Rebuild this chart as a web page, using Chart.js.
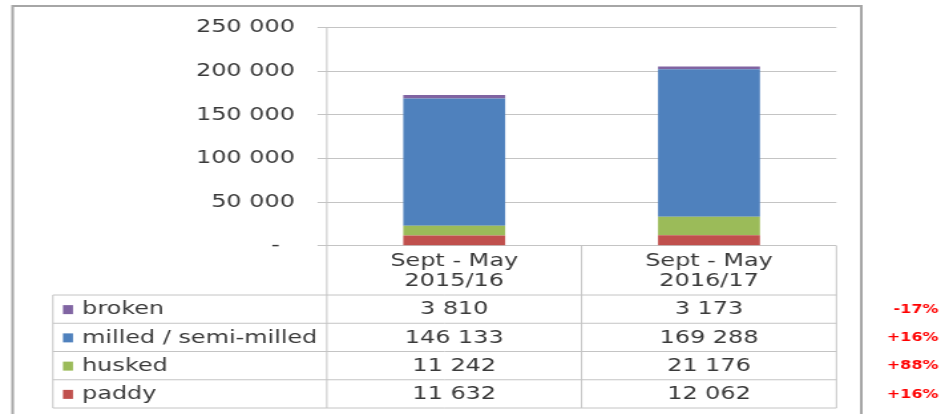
<!DOCTYPE html>
<html lang="en">
<head>
    <meta charset="UTF-8">
    <title>Rice imports</title>
    <style>
        body {
            margin: 0;
            background: #fff;
        }
        #chart {
            display: block;
        }
    </style>
</head>
<body>
    <!-- the original picture is stretched sideways, so the canvas is drawn narrow and widened by its inline style -->
    <canvas id="chart" width="708" height="414" style="width:941px;height:414px"></canvas>

    <script src="https://cdn.jsdelivr.net/npm/chart.js"></script>
    <script>
        const categories = [['Sept - May', '2015/16'], ['Sept - May', '2016/17']];
        const paddy = [11632, 12062];
        const husked = [11242, 21176];
        const milled = [146133, 169288];
        const broken = [3810, 3173];
        // change 2016/17 vs 2015/16, table rows top to bottom
        const changes = ['-17%', '+16%', '+88%', '+16%'];

        const FONT = '"DejaVu Sans", Verdana, sans-serif';
        const TEXT = '#3a3a3a';
        const GRID = '#c4c4c4';

        function fmt(n) {
            return String(n).replace(/\B(?=(\d{3})+(?!\d))/g, ' ');
        }

        const datasets = [
            { label: 'paddy', data: paddy, backgroundColor: '#c0504d' },
            { label: 'husked', data: husked, backgroundColor: '#9bbb59' },
            { label: 'milled / semi-milled', data: milled, backgroundColor: '#4f81bd' },
            { label: 'broken', data: broken, backgroundColor: '#8064a2' }
        ];

        // data table under the plot, plus the outer frame
        const tablePlugin = {
            id: 'dataTable',
            afterDraw(chart) {
                const { ctx, chartArea: a, scales: { x } } = chart;
                const headBottom = a.bottom + 49.3;
                const rowH = 28.25;
                const legLeft = 39.8;
                const mid = (x.getPixelForValue(0) + x.getPixelForValue(1)) / 2;
                const rows = datasets.slice().reverse();
                const tableBottom = headBottom + rowH * rows.length;

                ctx.save();
                ctx.strokeStyle = GRID;
                ctx.lineWidth = 1;
                ctx.beginPath();
                // verticals
                ctx.moveTo(a.left, a.top); ctx.lineTo(a.left, tableBottom);
                ctx.moveTo(mid, a.bottom); ctx.lineTo(mid, tableBottom);
                ctx.moveTo(a.right, a.bottom); ctx.lineTo(a.right, tableBottom);
                ctx.moveTo(legLeft, headBottom); ctx.lineTo(legLeft, tableBottom);
                // horizontals
                for (let i = 0; i <= rows.length; i++) {
                    const y = headBottom + rowH * i;
                    ctx.moveTo(legLeft, y); ctx.lineTo(a.right, y);
                }
                ctx.stroke();

                // header
                ctx.fillStyle = TEXT;
                ctx.font = '18px ' + FONT;
                ctx.textAlign = 'center';
                ctx.textBaseline = 'alphabetic';
                categories.forEach((lines, i) => {
                    const cx = x.getPixelForValue(i);
                    lines.forEach((t, j) => ctx.fillText(t, cx, a.bottom + 20.5 + j * 20));
                });

                // rows
                ctx.textBaseline = 'middle';
                rows.forEach((ds, r) => {
                    const cy = headBottom + rowH * r + rowH / 2 + 0.5;
                    ctx.fillStyle = ds.backgroundColor;
                    ctx.fillRect(47.4, cy - 4.5, 7.5, 9);
                    ctx.fillStyle = TEXT;
                    ctx.font = '18px ' + FONT;
                    ctx.textAlign = 'left';
                    ctx.fillText(ds.label, 61.7, cy);
                    ctx.textAlign = 'center';
                    ds.data.forEach((v, i) => ctx.fillText(fmt(v), x.getPixelForValue(i), cy));
                    ctx.fillStyle = '#ff0000';
                    ctx.font = 'bold 12px ' + FONT;
                    ctx.textAlign = 'right';
                    ctx.fillText(changes[r], 706, cy);
                });

                // outer frame
                ctx.strokeStyle = '#a6a6a6';
                ctx.lineWidth = 2;
                ctx.strokeRect(9.5, 6, 638.5, 430);
                ctx.restore();
            }
        };

        new Chart(document.getElementById('chart'), {
            type: 'bar',
            data: { labels: categories, datasets: datasets },
            options: {
                responsive: false,
                animation: false,
                devicePixelRatio: 1,
                layout: { padding: { left: 0, top: 24.3, right: 78.7, bottom: 168.3 } },
                datasets: { bar: { categoryPercentage: 1, barPercentage: 0.4 } },
                plugins: {
                    legend: { display: false },
                    tooltip: { enabled: false }
                },
                scales: {
                    x: {
                        stacked: true,
                        display: false
                    },
                    y: {
                        stacked: true,
                        min: 0,
                        max: 250000,
                        afterFit: s => { s.width = 245.9; },
                        border: { display: false },
                        grid: { color: GRID, tickLength: 7, drawTicks: true },
                        ticks: {
                            stepSize: 50000,
                            padding: 17,
                            color: TEXT,
                            font: { family: FONT, size: 18 },
                            callback: v => v === 0 ? '-  ' : fmt(v)
                        }
                    }
                }
            },
            plugins: [tablePlugin]
        });
    </script>
</body>
</html>
